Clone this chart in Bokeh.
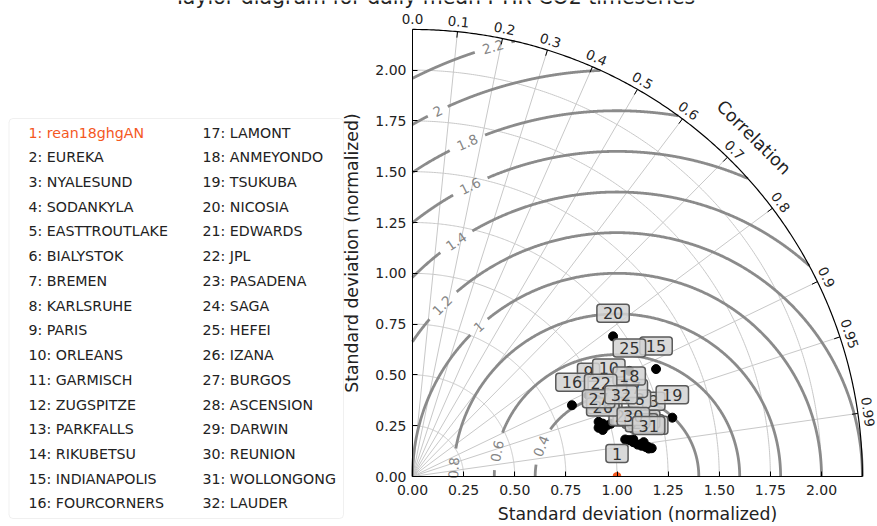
import numpy as np
from bokeh.plotting import figure
from bokeh.models import (ColumnDataSource, Label, FixedTicker, LinearAxis,
                          NumeralTickFormatter, Range1d, BoxAnnotation)
from bokeh.core.properties import value
from bokeh.embed import file_html
from bokeh.resources import INLINE

# ---------------- data ----------------
title_text = "Taylor diagram for daily mean FTIR CO2 timeseries"
site_ids = list(range(1, 33))
site_names = ["rean18ghgAN", "EUREKA", "NYALESUND", "SODANKYLA", "EASTTROUTLAKE",
              "BIALYSTOK", "BREMEN", "KARLSRUHE", "PARIS", "ORLEANS", "GARMISCH",
              "ZUGSPITZE", "PARKFALLS", "RIKUBETSU", "INDIANAPOLIS", "FOURCORNERS",
              "LAMONT", "ANMEYONDO", "TSUKUBA", "NICOSIA", "EDWARDS", "JPL",
              "PASADENA", "SAGA", "HEFEI", "IZANA", "BURGOS", "ASCENSION", "DARWIN",
              "REUNION", "WOLLONGONG", "LAUDER"]
# normalized standard deviation and correlation of each site
std_norm = [1.000, 0.982, 1.208, 1.004, 0.941, 1.112, 1.093, 1.142, 0.949, 1.048,
            1.131, 1.075, 1.150, 1.178, 1.303, 0.855, 1.117, 1.126, 1.303, 1.199,
            0.966, 0.983, 1.056, 1.160, 1.181, 0.958, 0.949, 1.143, 1.130, 1.095,
            1.163, 1.060]
corr = [1.000, 0.967, 0.977, 0.966, 0.967, 0.990, 0.988, 0.972, 0.907, 0.916,
        0.990, 0.986, 0.992, 0.993, 0.914, 0.912, 0.958, 0.941, 0.975, 0.818,
        0.963, 0.936, 0.985, 0.992, 0.898, 0.971, 0.959, 0.989, 0.991, 0.986,
        0.993, 0.962]
std_ticks = [0.0, 0.25, 0.5, 0.75, 1.0, 1.25, 1.5, 1.75, 2.0]
corr_ticks = [0.0, 0.1, 0.2, 0.3, 0.4, 0.5, 0.6, 0.7, 0.8, 0.9, 0.95, 0.99]
rms_levels = [0.4, 0.6, 0.8, 1.0, 1.2, 1.4, 1.6, 1.8, 2.0, 2.2]
rms_label_texts = ["0.4", "0.6", "0.8", "1", "1.2", "1.4", "1.6", "1.8", "2", "2.2"]

# ---------------- style / layout ----------------
RMAX = 2.2
FONT = "DejaVu Sans"
rms_label_theta = [158, 168, 177, 132.5, 135.4, 124.2, 116.7, 114, 116, 106]  # deg, around (1,0)
W, H = 877, 526
X0, Y0 = 412.0, 476.0          # canvas pixel of the diagram origin
PXX, PXY = 204.5, 203.2        # pixels per unit
ORANGE = "#f4581f"
GRID = "#c8c8c8"
CONT = "#858585"
TXT = "#222222"

p = figure(width=W, height=H,
           x_range=Range1d(-X0 / PXX, (W - X0) / PXX),
           y_range=Range1d((Y0 - H) / PXY, Y0 / PXY),
           min_border=0, x_axis_type=None, y_axis_type=None,
           output_backend="svg", toolbar_location=None, tools="")
p.outline_line_color = None
p.background_fill_color = "white"
p.border_fill_color = "white"

xax = LinearAxis(fixed_location=0, bounds=(0, RMAX))
yax = LinearAxis(fixed_location=0, bounds=(0, RMAX))
p.add_layout(xax, "below")
p.add_layout(yax, "left")
for ax in (xax, yax):
    ax.ticker = FixedTicker(ticks=std_ticks)
    ax.formatter = NumeralTickFormatter(format="0.00")
    ax.axis_label = "Standard deviation (normalized)"
    ax.axis_label_text_font = FONT
    ax.axis_label_text_font_size = "17.3px"
    ax.axis_label_text_font_style = "normal"
    ax.axis_label_text_color = TXT
    ax.major_label_text_font = FONT
    ax.major_label_text_font_size = "14px"
    ax.major_label_text_color = TXT
    ax.major_tick_in = 5
    ax.major_tick_out = 0
    ax.minor_tick_in = 0
    ax.minor_tick_out = 0
    ax.axis_line_color = "black"
    ax.major_tick_line_color = "black"
xax.major_label_standoff = 8
xax.axis_label_standoff = 6
yax.major_label_standoff = 6
yax.axis_label_standoff = 10


def dx(page_x):
    return (page_x - X0) / PXX


def dy(page_y):
    return (Y0 - page_y) / PXY


# legend frame (drawn beneath the glyphs)
p.add_layout(BoxAnnotation(left=dx(8.5), right=dx(343), top=dy(118), bottom=dy(518),
                           fill_color="white", fill_alpha=1, line_color="#cccccc",
                           line_width=1, border_radius=4, level="underlay"))

th_q = np.linspace(0, np.pi / 2, 300)

# std grid arcs
p.multi_line([list(r * np.cos(th_q)) for r in std_ticks[1:]],
             [list(r * np.sin(th_q)) for r in std_ticks[1:]], line_color=GRID, line_width=1)

# correlation radial lines
cth = np.arccos(np.array(corr_ticks[1:]))
p.multi_line([[0, RMAX * np.cos(t)] for t in cth], [[0, RMAX * np.sin(t)] for t in cth],
             line_color=GRID, line_width=1)

# RMS contours centred on the reference point (1, 0)
cxs, cys = [], []
lab_x, lab_y, lab_a = [], [], []
for r, tl, txt in zip(rms_levels, rms_label_theta, rms_label_texts):
    cmax = (RMAX ** 2 - 1 - r ** 2) / (2 * r)
    t0 = np.arccos(min(1.0, max(-1.0, cmax)))
    t1 = np.arccos(max(-1.0, -1.0 / r)) if r > 1 else np.pi
    th = np.linspace(t0, t1, 600)
    gap = (len(txt) * 8 + 14) / PXX / r / 2
    tlr = np.radians(tl)
    ok = np.abs(th - tlr) > gap
    cur = []
    for t, o in zip(th, ok):
        if o:
            cur.append(t)
        elif cur:
            cxs.append(list(1 + r * np.cos(cur))); cys.append(list(r * np.sin(cur))); cur = []
    if cur:
        cxs.append(list(1 + r * np.cos(cur))); cys.append(list(r * np.sin(cur)))
    lab_x.append(1 + r * np.cos(tlr)); lab_y.append(r * np.sin(tlr)); lab_a.append(tlr - np.pi / 2)
p.multi_line(cxs, cys, line_color=CONT, line_width=2.8, line_alpha=0.95)
p.text(x=lab_x, y=lab_y, text=rms_label_texts, angle=lab_a, text_align="center",
       text_baseline="middle", text_color=CONT, text_font=value(FONT), text_font_size="13.5px")

# outer boundary arc and correlation ticks
p.line(RMAX * np.cos(th_q), RMAX * np.sin(th_q), line_color="black", line_width=1.2)
ct = np.arccos(np.array(corr_ticks))
tick_len = 6 / PXX
p.segment(x0=list(RMAX * np.cos(ct)), y0=list(RMAX * np.sin(ct)),
          x1=list((RMAX - tick_len) * np.cos(ct)), y1=list((RMAX - tick_len) * np.sin(ct)),
          line_color="black", line_width=1)

# correlation tick labels
RL = 2.25
p.text(x=list(RL * np.cos(ct)), y=list(RL * np.sin(ct)),
       text=[("%g" % c) if c != 0 else "0.0" for c in corr_ticks],
       angle=list(ct - np.pi / 2), text_align="center", text_baseline="middle",
       text_font=value(FONT), text_font_size="13.5px", text_color=TXT)
ca = np.radians(45)
p.add_layout(Label(x=2.36 * np.cos(ca), y=2.36 * np.sin(ca), text="Correlation", angle=ca - np.pi / 2,
                   text_align="center", text_baseline="middle", text_font=FONT,
                   text_font_size="17.5px", text_color=TXT))

# data points
std_a = np.array(std_norm)
cor_a = np.array(corr)
px = std_a * cor_a
py = std_a * np.sqrt(np.clip(1 - cor_a ** 2, 0, None))
p.scatter(px[1:], py[1:], size=9, color="black")
p.wedge(x=[px[0]], y=[py[0]], radius=4, radius_units="screen", start_angle=0, end_angle=np.pi,
        color=ORANGE)
for i, sid in enumerate(site_ids):
    p.add_layout(Label(x=float(px[i]), y=float(py[i]), text=str(sid), y_offset=23,
                       text_align="center", text_baseline="middle", text_font=FONT,
                       text_font_size="16px", text_color="#333333",
                       background_fill_color="#d2d2d2", background_fill_alpha=0.85,
                       border_line_color="#5a5a5a", border_line_width=1.5,
                       padding=(6, 3), border_radius=3))

# title (cut off at the top like the original)
p.text(x=[dx(434)], y=[dy(-4)], text=[title_text], text_align="center",
       text_baseline="alphabetic", text_font=value(FONT), text_font_size="20.5px", text_color=TXT)

# legend entries
nrow = 16
leg_x, leg_y, leg_t, leg_c = [], [], [], []
for i, (sid, nm) in enumerate(zip(site_ids, site_names)):
    col, row = divmod(i, nrow)
    leg_x.append(dx(28 if col == 0 else 202))
    leg_y.append(dy(132 + row * 24.73))
    leg_t.append("%d: %s" % (sid, nm))
    leg_c.append(ORANGE if i == 0 else TXT)
lsrc = ColumnDataSource(dict(x=leg_x, y=leg_y, t=leg_t, c=leg_c))
p.text(x="x", y="y", text="t", text_color="c", source=lsrc, text_align="left",
       text_baseline="middle", text_font=value(FONT), text_font_size="14.2px")

open("out.html", "w").write(file_html(p, INLINE))
